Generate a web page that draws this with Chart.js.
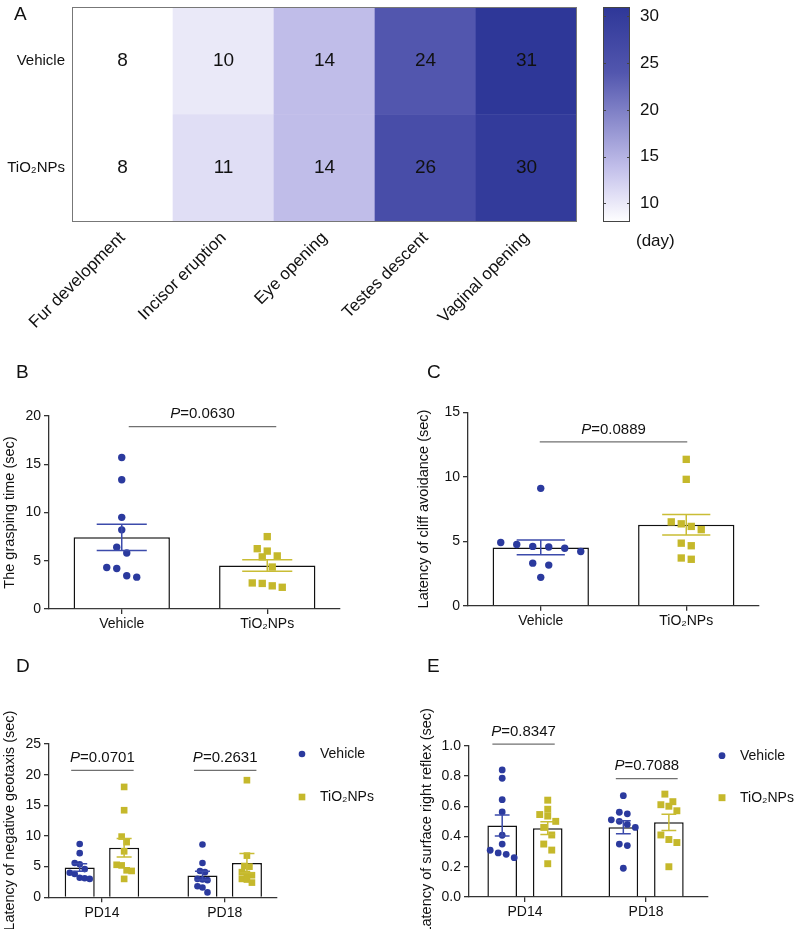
<!DOCTYPE html>
<html>
<head>
<meta charset="utf-8">
<script src="https://cdn.jsdelivr.net/npm/chart.js@4.4.1/dist/chart.umd.min.js"></script>
<style>
  html, body { margin: 0; padding: 0; background: #fff; }
  body { width: 797px; height: 929px; position: relative; overflow: hidden; }
  canvas { position: absolute; }
</style>
</head>
<body>
<canvas id="cA" style="left:0;top:0" width="595" height="340"></canvas>
<canvas id="cBar" style="left:590px;top:0" width="120" height="260"></canvas>
<canvas id="cB" style="left:0;top:360px" width="400" height="280"></canvas>
<canvas id="cC" style="left:400px;top:360px" width="397" height="280"></canvas>
<canvas id="cD" style="left:0;top:650px" width="400" height="279"></canvas>
<canvas id="cE" style="left:400px;top:650px" width="397" height="279"></canvas>
<script>
// ---- data ----
const milestones = ['Fur development', 'Incisor eruption', 'Eye opening', 'Testes descent', 'Vaginal opening'];
const rowNames = ['Vehicle', 'TiO₂NPs'];
const vehicleDays = [8, 10, 14, 24, 31];
const tio2Days = [8, 11, 14, 26, 30];
const dayTicks = [10, 15, 20, 25, 30];

const groupNames = ['Vehicle', 'TiO₂NPs'];
const graspVehicle = [15.7, 13.4, 9.5, 8.2, 6.4, 5.8, 4.3, 4.2, 3.45, 3.3];
const graspTiO2 = [7.5, 6.25, 6.0, 5.5, 5.4, 4.35, 2.7, 2.65, 2.4, 2.25];
const cliffVehicle = [9.1, 4.9, 4.75, 4.6, 4.55, 4.45, 4.2, 3.3, 3.15, 2.2];
const cliffTiO2 = [11.35, 9.8, 6.5, 6.35, 6.15, 5.9, 4.85, 4.65, 3.7, 3.6];

const ages = ['PD14', 'PD18'];
const geoVehicle14 = [8.7, 7.2, 5.6, 5.4, 4.6, 4.0, 3.8, 3.2, 3.1, 3.0];
const geoTiO2_14 = [18.0, 14.2, 9.9, 9.0, 7.5, 5.3, 5.2, 4.4, 4.3, 3.0];
const geoVehicle18 = [8.6, 5.6, 4.3, 4.1, 3.0, 2.9, 2.8, 1.8, 1.6, 0.8];
const geoTiO2_18 = [19.1, 6.8, 5.1, 5.0, 4.1, 3.8, 3.6, 3.0, 2.9, 2.4];
const srrVehicle14 = [0.84, 0.785, 0.643, 0.562, 0.408, 0.35, 0.309, 0.291, 0.282, 0.26];
const srrTiO2_14 = [0.64, 0.58, 0.545, 0.535, 0.50, 0.46, 0.41, 0.35, 0.31, 0.22];
const srrVehicle18 = [0.67, 0.56, 0.55, 0.51, 0.50, 0.48, 0.46, 0.35, 0.34, 0.19];
const srrTiO2_18 = [0.68, 0.63, 0.61, 0.60, 0.57, 0.41, 0.38, 0.36, 0.20];

const pGrasp = '0.0630';
const pCliff = '0.0889';
const pGeo = ['0.0701', '0.2631'];
const pSrr = ['0.8347', '0.7088'];

// ---- look ----
const FONT = '"Liberation Sans", Arial, sans-serif';
const TEXT = '#111';
const AXIS = '#333';
const BLUE = '#2b3a9e', BLUE_ERR = '#3c4bab';
const YELLOW = '#c5b82b', YELLOW_ERR = '#c9bd35';
// colour ramp of the heat map (day -> rgb)
const ramp = [[8, [255, 255, 255]], [11, [224, 222, 245]], [14, [192, 189, 233]], [24, [82, 86, 174]], [31, [46, 55, 152]]];

Chart.defaults.font.family = FONT;
Chart.defaults.color = TEXT;
Chart.defaults.animation = false;
Chart.defaults.events = [];
Chart.defaults.plugins.legend.display = false;
Chart.defaults.plugins.tooltip.enabled = false;

const mean = a => a.reduce((s, v) => s + v, 0) / a.length;
const sem = a => {
  const m = mean(a);
  return Math.sqrt(a.reduce((s, v) => s + (v - m) * (v - m), 0) / (a.length - 1) / a.length);
};

function dayColor(v) {
  for (let i = 1; i < ramp.length; i++) {
    if (v <= ramp[i][0]) {
      const [v0, c0] = ramp[i - 1], [v1, c1] = ramp[i];
      const t = (v - v0) / (v1 - v0);
      const c = c0.map((k, j) => Math.round(k + (c1[j] - k) * t));
      return 'rgb(' + c.join(',') + ')';
    }
  }
  return 'rgb(' + ramp[ramp.length - 1][1].join(',') + ')';
}

function letter(ctx, txt, x, y) {
  ctx.save();
  ctx.font = '19px ' + FONT;
  ctx.fillStyle = TEXT;
  ctx.textAlign = 'left';
  ctx.textBaseline = 'alphabetic';
  ctx.fillText(txt, x, y);
  ctx.restore();
}

// ---- A: heat map ----
const dayMin = Math.min(...vehicleDays, ...tio2Days);
const dayMax = Math.max(...vehicleDays, ...tio2Days);

new Chart(document.getElementById('cA'), {
  type: 'bar',
  data: {
    labels: milestones,
    datasets: [
      { label: rowNames[1], data: tio2Days.map(() => 1), days: tio2Days, backgroundColor: tio2Days.map(dayColor) },
      { label: rowNames[0], data: vehicleDays.map(() => 1), days: vehicleDays, backgroundColor: vehicleDays.map(dayColor) }
    ]
  },
  options: {
    responsive: false,
    layout: { padding: { top: 7, right: 18 } },
    datasets: { bar: { barPercentage: 1, categoryPercentage: 1, borderWidth: 0 } },
    scales: {
      x: {
        stacked: true,
        grid: { display: false, drawTicks: false },
        border: { display: false },
        ticks: { minRotation: 45, maxRotation: 45, autoSkip: false, padding: 6, font: { size: 17 } },
        afterFit: s => { s.height = 118; }
      },
      y: {
        stacked: true, min: 0, max: 2,
        grid: { display: false, drawTicks: false },
        border: { display: false },
        afterBuildTicks: s => { s.ticks = [{ value: 0.5 }, { value: 1.5 }]; },
        ticks: { padding: 7, font: { size: 15 }, callback: v => (v > 1 ? rowNames[0] : rowNames[1]) },
        afterFit: s => { s.width = 72; s.paddingTop = 0; s.paddingBottom = 0; }
      }
    }
  },
  plugins: [{
    id: 'cells',
    afterDatasetsDraw(chart) {
      const ctx = chart.ctx, a = chart.chartArea;
      ctx.save();
      ctx.font = '19px ' + FONT;
      ctx.fillStyle = TEXT;
      ctx.textAlign = 'center';
      ctx.textBaseline = 'middle';
      chart.data.datasets.forEach((ds, di) => {
        chart.getDatasetMeta(di).data.forEach((el, i) => {
          ctx.fillText(String(ds.days[i]), el.x, (el.y + el.base) / 2);
        });
      });
      ctx.strokeStyle = '#777';
      ctx.lineWidth = 1;
      ctx.strokeRect(a.left + 0.5, a.top + 0.5, a.right - a.left - 1, a.bottom - a.top - 1);
      ctx.restore();
      letter(ctx, 'A', 14, 20);
    }
  }]
});

// ---- A: colour bar ----
new Chart(document.getElementById('cBar'), {
  type: 'bar',
  data: {
    labels: [''],
    datasets: [{
      data: [[dayMin, dayMax]],
      borderWidth: 0,
      barPercentage: 1,
      categoryPercentage: 1,
      backgroundColor: c => {
        const ch = c.chart;
        if (!ch.chartArea) return '#fff';
        const ys = ch.scales.y;
        const g = ch.ctx.createLinearGradient(0, ys.getPixelForValue(dayMin), 0, ys.getPixelForValue(dayMax));
        ramp.forEach(([v, rgb]) => g.addColorStop((v - dayMin) / (dayMax - dayMin), 'rgb(' + rgb.join(',') + ')'));
        return g;
      }
    }]
  },
  options: {
    responsive: false,
    layout: { padding: { left: 13, top: 7, bottom: 38 } },
    scales: {
      x: { display: false },
      y: {
        position: 'right', min: dayMin, max: dayMax,
        afterBuildTicks: s => { s.ticks = dayTicks.map(v => ({ value: v })); },
        grid: { drawOnChartArea: false, drawTicks: false },
        border: { display: false },
        ticks: { padding: 10, font: { size: 17 } },
        afterFit: s => { s.width = 80; s.paddingTop = 0; s.paddingBottom = 0; }
      }
    }
  },
  plugins: [{
    id: 'barFrame',
    afterDatasetsDraw(chart) {
      const ctx = chart.ctx, a = chart.chartArea, ys = chart.scales.y;
      ctx.save();
      ctx.strokeStyle = '#444';
      ctx.lineWidth = 1;
      ctx.strokeRect(a.left + 0.5, a.top + 0.5, a.right - a.left - 1, a.bottom - a.top - 1);
      ctx.beginPath();
      dayTicks.forEach(v => {
        const y = Math.round(ys.getPixelForValue(v)) + 0.5;
        ctx.moveTo(a.left, y); ctx.lineTo(a.left + 3, y);
        ctx.moveTo(a.right - 3, y); ctx.lineTo(a.right, y);
      });
      ctx.stroke();
      ctx.font = '17px ' + FONT;
      ctx.fillStyle = TEXT;
      ctx.textAlign = 'left';
      ctx.textBaseline = 'middle';
      ctx.fillText('(day)', a.right + 6, a.bottom + 19);
      ctx.restore();
    }
  }]
});

// ---- B-E: bar + scatter panels ----
function pText(ctx, val, cx, cy) {
  ctx.font = 'italic 15px ' + FONT;
  const w1 = ctx.measureText('P').width;
  ctx.font = '15px ' + FONT;
  const rest = '=' + val;
  const w2 = ctx.measureText(rest).width;
  const x0 = cx - (w1 + w2) / 2;
  ctx.fillStyle = TEXT;
  ctx.textAlign = 'left';
  ctx.textBaseline = 'middle';
  ctx.font = 'italic 15px ' + FONT;
  ctx.fillText('P', x0, cy);
  ctx.font = '15px ' + FONT;
  ctx.fillText(rest, x0 + w1, cy);
}

function decor(cfg) {
  return {
    id: 'decor',
    afterDatasetsDraw(chart) {
      const ctx = chart.ctx, xs = chart.scales.x, ys = chart.scales.y, a = chart.chartArea;
      ctx.save();
      // mean +/- SEM
      chart.data.datasets.forEach((ds, di) => {
        if (!ds.stats) return;
        chart.getDatasetMeta(di).data.forEach((el, j) => {
          const st = ds.stats[j];
          const yHi = ys.getPixelForValue(st.m + st.e), yLo = ys.getPixelForValue(st.m - st.e);
          const half = el.width * cfg.cap / 2;
          ctx.strokeStyle = ds.errColor;
          ctx.lineWidth = 1.5;
          ctx.beginPath();
          ctx.moveTo(el.x, yHi); ctx.lineTo(el.x, yLo);
          ctx.moveTo(el.x - half, yHi); ctx.lineTo(el.x + half, yHi);
          ctx.moveTo(el.x - half, yLo); ctx.lineTo(el.x + half, yLo);
          ctx.stroke();
        });
      });
      // P value brackets
      cfg.brackets.forEach(b => {
        const x1 = xs.getPixelForValue(b.from[0] + cfg.offsets[b.from[1]]) + b.pad[0];
        const x2 = xs.getPixelForValue(b.to[0] + cfg.offsets[b.to[1]]) + b.pad[1];
        const y = ys.getPixelForValue(b.y);
        ctx.strokeStyle = '#707070';
        ctx.lineWidth = 1.3;
        ctx.beginPath();
        ctx.moveTo(x1, y); ctx.lineTo(x2, y);
        ctx.stroke();
        pText(ctx, b.p, (x1 + x2) / 2, y - 12.5);
      });
      // legend
      if (cfg.legend) {
        cfg.series.forEach((s, i) => {
          const x = a.right + cfg.legend.dx, y = a.top + cfg.legend.dy + i * cfg.legend.gap;
          ctx.fillStyle = s.color;
          if (s.style === 'circle') {
            ctx.beginPath(); ctx.arc(x, y, s.r, 0, Math.PI * 2); ctx.fill();
          } else {
            const h = s.r * Math.SQRT1_2;
            ctx.fillRect(x - h, y - h, 2 * h, 2 * h);
          }
          ctx.fillStyle = TEXT;
          ctx.font = '14px ' + FONT;
          ctx.textAlign = 'left';
          ctx.textBaseline = 'middle';
          ctx.fillText(s.label, x + 18, y);
        });
      }
      ctx.restore();
      letter(ctx, cfg.letter[0], cfg.letter[1], cfg.letter[2]);
    }
  };
}

// GraphPad-like column scatter: points of close value share a row, centred
function swarm(chart, cfg) {
  const xs = chart.scales.x, ys = chart.scales.y;
  const ppu = xs.getPixelForValue(1) - xs.getPixelForValue(0);
  chart.data.datasets.forEach(ds => {
    if (ds.type !== 'scatter') return;
    const spread = ds.spread || cfg.spread;
    const byCol = {};
    ds.data.forEach(p => { (byCol[p.gx] = byCol[p.gx] || []).push(p); });
    Object.values(byCol).forEach(pts => {
      pts.sort((p, q) => p.y - q.y);
      const rows = [];
      pts.forEach(p => {
        const py = ys.getPixelForValue(p.y);
        const row = rows[rows.length - 1];
        if (row && Math.abs(row.py - py) <= cfg.rowGap) row.pts.push(p);
        else rows.push({ py, pts: [p] });
      });
      rows.forEach(r => {
        r.pts.sort((p, q) => q.y - p.y);
        const n = r.pts.length;
        r.pts.forEach((p, k) => { p.x = p.gx + (k - (n - 1) / 2) * spread / ppu; });
      });
    });
  });
  chart.update();
}

function barPanel(id, cfg) {
  const canvas = document.getElementById(id);
  const W = canvas.width, H = canvas.height, A = cfg.area;
  const datasets = [];
  cfg.series.forEach((s, si) => {
    const pts = [];
    s.values.forEach((vals, g) => {
      if (!vals) return;
      const gx = g + 1 + cfg.offsets[si];
      vals.forEach(v => pts.push({ x: gx, y: v, gx }));
    });
    datasets.push({
      type: 'scatter', label: s.label, data: pts, order: 1, spread: s.spread,
      pointStyle: s.style, pointRadius: s.r, backgroundColor: s.color, borderWidth: 0, clip: false
    });
  });
  cfg.series.forEach((s, si) => {
    const bars = [], stats = [];
    s.values.forEach((vals, g) => {
      if (!vals) return;
      bars.push({ x: g + 1 + cfg.offsets[si], y: mean(vals) });
      stats.push({ m: mean(vals), e: sem(vals) });
    });
    datasets.push({
      type: 'bar', label: s.label, data: bars, stats, errColor: s.err, order: 2,
      backgroundColor: '#fff', borderColor: '#111', borderWidth: 1.5,
      grouped: false, barPercentage: cfg.barRatio, categoryPercentage: 1
    });
  });

  const chart = new Chart(canvas, {
    type: 'bar',
    data: { datasets },
    options: {
      responsive: false,
      layout: { padding: { left: 0, top: A.t, right: W - A.r, bottom: 0 } },
      scales: {
        x: {
          type: 'linear', min: cfg.xRange[0], max: cfg.xRange[1], offset: false,
          afterBuildTicks: s => { s.ticks = cfg.groups.map((g, i) => ({ value: i + 1 })); },
          ticks: { callback: v => cfg.groups[Math.round(v) - 1], font: { size: 14 }, padding: 2, maxRotation: 0, autoSkip: false },
          grid: { offset: false, drawOnChartArea: false, tickLength: 5, color: AXIS, lineWidth: 1.3 },
          border: { color: AXIS, width: 1.3 },
          afterFit: s => { s.height = H - A.b; }
        },
        y: {
          min: 0, max: cfg.yMax,
          ticks: { stepSize: cfg.yStep, font: { size: 14 }, padding: 3, callback: cfg.yFmt || (v => String(v)) },
          grid: { drawOnChartArea: false, tickLength: 5, color: AXIS, lineWidth: 1.3 },
          border: { color: AXIS, width: 1.3 },
          title: { display: true, text: cfg.yTitle, font: { size: 14.5 }, padding: { top: cfg.titlePad, bottom: 0 } },
          afterFit: s => { s.width = A.l; }
        }
      }
    },
    plugins: [decor(cfg)]
  });
  swarm(chart, cfg);
}

const vehicleStyle = { label: 'Vehicle', color: BLUE, err: BLUE_ERR, style: 'circle' };
const tio2Style = { label: 'TiO₂NPs', color: YELLOW, err: YELLOW_ERR, style: 'rect' };

barPanel('cB', {
  letter: ['B', 16, 18],
  area: { l: 49, r: 340, t: 56, b: 249 },
  groups: groupNames, xRange: [0.5, 2.5], offsets: [0, 0], barRatio: 0.662, cap: 0.52,
  yMax: 20, yStep: 5, yTitle: 'The grasping time (sec)', titlePad: 1.3,
  rowGap: 11, spread: 10,
  series: [
    Object.assign({}, vehicleStyle, { r: 3.7, values: [graspVehicle, null] }),
    Object.assign({}, tio2Style, { r: 5.2, values: [null, graspTiO2] })
  ],
  brackets: [{ from: [1, 0], to: [2, 1], pad: [7, 9], y: 18.9, p: pGrasp }]
});

barPanel('cC', {
  letter: ['C', 27, 18],
  area: { l: 68, r: 359, t: 52.3, b: 245.7 },
  groups: groupNames, xRange: [0.5, 2.5], offsets: [0, 0], barRatio: 0.662, cap: 0.5,
  yMax: 15, yStep: 5, yTitle: 'Latency of cliff avoidance (sec)', titlePad: 15.3,
  rowGap: 11, spread: 12,
  series: [
    Object.assign({}, vehicleStyle, { r: 3.7, spread: 16, values: [cliffVehicle, null] }),
    Object.assign({}, tio2Style, { r: 5.2, spread: 10, values: [null, cliffTiO2] })
  ],
  brackets: [{ from: [1, 0], to: [2, 1], pad: [-1, 1], y: 12.7, p: pCliff }]
});

barPanel('cD', {
  letter: ['D', 16, 22],
  area: { l: 49, r: 277, t: 94, b: 247.3 },
  groups: ages, xRange: [0.569, 2.426], offsets: [-0.181, 0.181], barRatio: 0.676, cap: 0.5,
  yMax: 25, yStep: 5, yTitle: 'Latency of negative geotaxis (sec)', titlePad: 1.3,
  rowGap: 7, spread: 5,
  legend: { dx: 25, dy: 10, gap: 43 },
  series: [
    Object.assign({}, vehicleStyle, { r: 3.3, values: [geoVehicle14, geoVehicle18] }),
    Object.assign({}, tio2Style, { r: 4.7, values: [geoTiO2_14, geoTiO2_18] })
  ],
  brackets: [
    { from: [1, 0], to: [1, 1], pad: [-8.5, 9.5], y: 20.7, p: pGeo[0] },
    { from: [2, 0], to: [2, 1], pad: [-8.5, 9.5], y: 20.7, p: pGeo[1] }
  ]
});

barPanel('cE', {
  letter: ['E', 27, 22],
  area: { l: 69, r: 308, t: 95.7, b: 247 },
  groups: ages, xRange: [0.538, 2.511], offsets: [-0.188, 0.188], barRatio: 0.65, cap: 0.5,
  yMax: 1.0, yStep: 0.2, yFmt: v => v.toFixed(1), yTitle: 'Latency of surface right reflex (sec)', titlePad: 18.3,
  rowGap: 8, spread: 8,
  legend: { dx: 14, dy: 10, gap: 42 },
  series: [
    Object.assign({}, vehicleStyle, { r: 3.4, values: [srrVehicle14, srrVehicle18] }),
    Object.assign({}, tio2Style, { r: 4.9, values: [srrTiO2_14, srrTiO2_18] })
  ],
  brackets: [
    { from: [1, 0], to: [1, 1], pad: [-9.8, 7], y: 1.011, p: pSrr[0] },
    { from: [2, 0], to: [2, 1], pad: [-7.5, 8.8], y: 0.782, p: pSrr[1] }
  ]
});
</script>
</body>
</html>
